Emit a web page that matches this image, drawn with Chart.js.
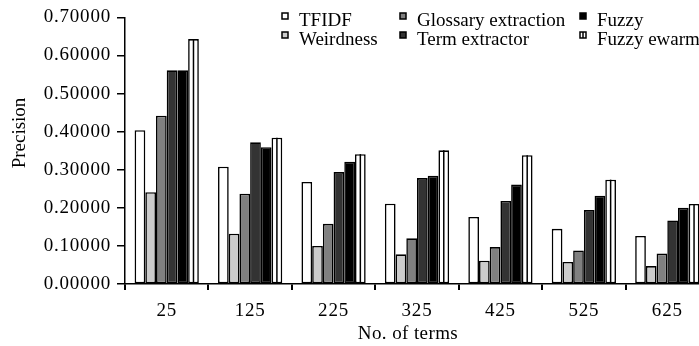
<!DOCTYPE html>
<html><head><meta charset="utf-8">
<script src="https://cdn.jsdelivr.net/npm/chart.js@4/dist/chart.umd.min.js"></script>
<style>
html,body{margin:0;padding:0;overflow:hidden;background:#fff;width:699px;height:346px}
#wrap{position:relative;width:709px;height:346px}
</style>
</head><body><div id="wrap"><canvas id="c" width="709" height="346"></canvas></div>
<script>
const categories = ['25','125','225','325','425','525','625'];
const seriesNames = ['TFIDF','Weirdness','Glossary extraction','Term extractor','Fuzzy','Fuzzy ewarm'];
const tfidf         = [0.404,0.308,0.268,0.211,0.176,0.145,0.126];
const weirdness     = [0.241,0.132,0.100,0.078,0.061,0.058,0.047];
const glossary      = [0.442,0.237,0.158,0.120,0.097,0.088,0.080];
const termExtractor = [0.561,0.372,0.294,0.278,0.218,0.194,0.167];
const fuzzy         = [0.561,0.359,0.321,0.284,0.261,0.232,0.200];
const fuzzyEwarm    = [0.643,0.384,0.341,0.351,0.338,0.274,0.210];
const yTickValues   = [0,0.1,0.2,0.3,0.4,0.5,0.6,0.7];
const xTitle = 'No. of terms';
const yTitle = 'Precision';

const seriesValues = [tfidf, weirdness, glossary, termExtractor, fuzzy, fuzzyEwarm];
const fills = ['#ffffff','#cccccc','#808080','#333333','#000000','#ffffff'];
const FONT = '"Liberation Serif","Times New Roman",serif';

const extras = {
  id:'extras',
  beforeDraw(chart){
    chart.ctx.letterSpacing = '0.8px';
  },
  afterDatasetsDraw(chart){
    const ctx = chart.ctx;
    const meta = chart.getDatasetMeta(5);
    ctx.save();
    ctx.strokeStyle = '#000'; ctx.lineWidth = 1.5;
    meta.data.forEach(b => {
      ctx.beginPath(); ctx.moveTo(b.x, b.y); ctx.lineTo(b.x, b.base); ctx.stroke();
    });
    ctx.restore();
  },
  afterDraw(chart){
    const ctx = chart.ctx;
    ctx.save();
    ctx.fillStyle = '#000';
    ctx.font = '19px ' + FONT;
    // axis titles
    ctx.letterSpacing = '0.4px';
    ctx.textAlign = 'center'; ctx.textBaseline = 'middle';
    ctx.fillText(xTitle, 408, 334);
    ctx.letterSpacing = '0px';
    ctx.save();
    ctx.translate(20, 133); ctx.rotate(-Math.PI/2);
    ctx.fillText(yTitle, 0, 0);
    ctx.restore();
    // legend
    const colX = [282, 400, 580];
    const rowY = [13, 32];
    ctx.textAlign = 'left'; ctx.textBaseline = 'alphabetic';
    seriesNames.forEach((name, i) => {
      const c = Math.floor(i/2), r = i % 2;
      const x = colX[c], y = rowY[r];
      ctx.fillStyle = fills[i];
      ctx.fillRect(x, y, 6, 6);
      ctx.strokeStyle = '#000'; ctx.lineWidth = 1.5;
      ctx.strokeRect(x, y, 6, 6);
      if (i === 5) { ctx.beginPath(); ctx.moveTo(x+3, y); ctx.lineTo(x+3, y+6); ctx.stroke(); }
      ctx.fillStyle = '#000';
      ctx.fillText(name, x + 17, y + 12.5);
    });
    ctx.restore();
  }
};

new Chart(document.getElementById('c'), {
  type:'bar',
  data:{
    labels: categories,
    datasets: seriesNames.map((n,i)=>({
      label:n, data:seriesValues[i], backgroundColor:fills[i],
      borderColor:'#000', borderWidth:1.6, borderSkipped:false,
      categoryPercentage:0.77, barPercentage:1.0
    }))
  },
  options:{
    responsive:false, animation:false, devicePixelRatio:1,
    layout:{padding:{top:14,left:0,right:0,bottom:0}},
    plugins:{legend:{display:false}, tooltip:{enabled:false}},
    scales:{
      x:{
        grid:{display:true, drawOnChartArea:false, drawTicks:true, tickLength:6, color:'#000', lineWidth:2, offset:true},
        border:{display:true, color:'#000', width:1.5},
        ticks:{color:'#000', font:{family:FONT, size:19}, padding:10, maxRotation:0},
        afterFit(s){ s.height = 62; }
      },
      y:{
        min:0, max:0.7,
        afterBuildTicks(s){ s.ticks = yTickValues.map(v=>({value:v})); },
        grid:{display:true, drawOnChartArea:false, drawTicks:true, tickLength:8, color:'#000', lineWidth:1.5},
        border:{display:true, color:'#000', width:1.5},
        ticks:{color:'#000', font:{family:FONT, size:19}, padding:6, callback:v=>Number(v).toFixed(5)},
        afterFit(s){ s.width = 125; }
      }
    }
  },
  plugins:[extras]
});
</script>
</body></html>
